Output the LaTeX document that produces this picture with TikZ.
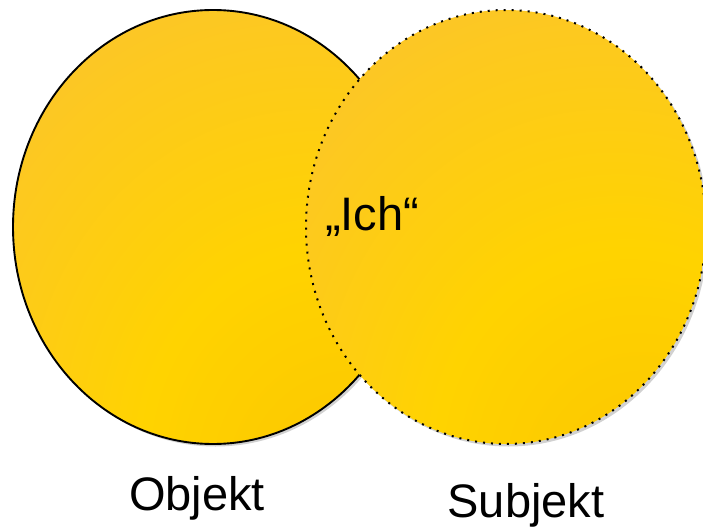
\documentclass[tikz,border=0pt]{standalone}
\usepackage{fontspec}
\setmainfont{Liberation Sans}
\usetikzlibrary{shapes.geometric}
\definecolor{goldbase}{HTML}{FCC628}
\definecolor{goldbright}{HTML}{FFD300}
\definecolor{golddeep}{HTML}{FAC000}
\pgfdeclareradialshading{goldshade}{\pgfpoint{20bp}{-35bp}}{%
  color(0bp)=(golddeep); color(12bp)=(golddeep!40!goldbright); color(24bp)=(goldbright);
  color(48bp)=(goldbase); color(100bp)=(goldbase)}
\tikzset{
  disc/.style={ellipse, minimum width=400pt, minimum height=434pt, inner sep=0pt, shading=goldshade},
  shadowdisc/.style={ellipse, minimum width=400pt, minimum height=434pt, inner sep=0pt, fill=black, fill opacity=0.18, draw=none},
  objline/.style={draw=black, line width=1.9pt},
  subjline/.style={draw=black, line width=2pt, dash pattern=on 2pt off 6pt},
  lbl/.style={font=\fontsize{47}{56}\selectfont, anchor=base, inner sep=0pt}
}
\begin{document}
\begin{tikzpicture}[x=1pt, y=-1pt]
\useasboundingbox (0,0) rectangle (703,529);
% shadows
\node[shadowdisc] (objshadow) at (215.5,229.5) {};
\node[disc, objline] (obj) at (213,227) {};
\node[shadowdisc] (subjshadow) at (508.5,229.5) {};
\node[disc, subjline] (subj) at (506,227) {};
\node[lbl] (ich) at (372,230) {„Ich“};
\node[lbl] (objlabel) at (197,510) {Objekt};
\node[lbl] (subjlabel) at (526,517) {Subjekt};
\end{tikzpicture}
\end{document}
